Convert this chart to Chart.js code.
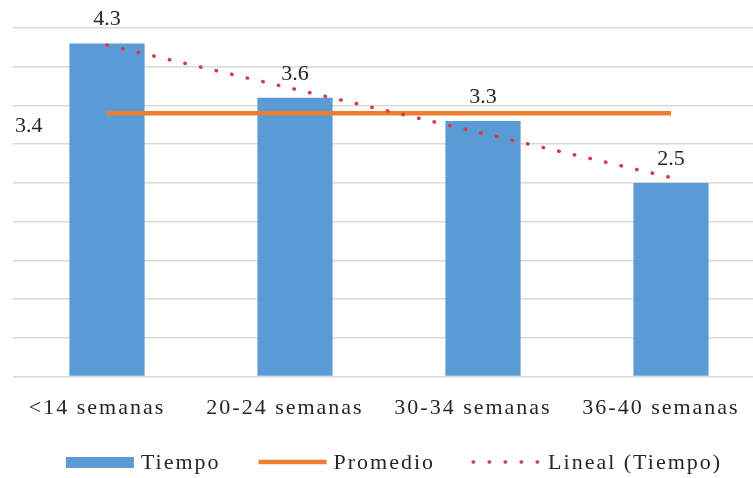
<!DOCTYPE html>
<html>
<head>
<meta charset="utf-8">
<script src="https://cdn.jsdelivr.net/npm/chart.js@4.4.1/dist/chart.umd.min.js"></script>
<style>
  html, body { margin: 0; padding: 0; background: #fff; overflow: hidden; }
  #wrap { width: 766px; height: 478px; }
</style>
</head>
<body>
<div id="wrap"><canvas id="c" width="766" height="478"></canvas></div>
<script>
// Tiempo por grupo de edad gestacional
const categories = ['<14 semanas', '20-24 semanas', '30-34 semanas', '36-40 semanas'];
const tiempo = [4.3, 3.6, 3.3, 2.5];
const promedio = [3.4, 3.4, 3.4, 3.4];
const tendencia = [4.28, 3.71, 3.14, 2.57];
const seriesNames = ['Tiempo', 'Promedio', 'Lineal (Tiempo)'];
const yMin = 0, yMax = 4.5, yStep = 0.5;

const FONT = "'Liberation Serif', 'Times New Roman', serif";
const TEXT = '#262626';
const BLUE = '#5B9BD5';
const ORANGE = '#ED7D31';
const RED = '#D63A47';
const DOTS = [0.5, 15.5];

// wider tracking for axis and legend text
const tracking = {
  id: 'tracking',
  beforeDraw(chart) { chart.ctx.letterSpacing = '2px'; }
};

// value labels above bars and the average label
const valueLabels = {
  id: 'valueLabels',
  afterDatasetsDraw(chart) {
    const ctx = chart.ctx;
    ctx.save();
    ctx.letterSpacing = '0px';
    ctx.font = '22px ' + FONT;
    ctx.fillStyle = TEXT;
    ctx.textAlign = 'center';
    ctx.textBaseline = 'middle';
    chart.getDatasetMeta(0).data.forEach((bar, i) => {
      ctx.fillText(tiempo[i].toFixed(1), bar.x, bar.y - 24);
    });
    const avg = chart.getDatasetMeta(1).data[0];
    ctx.textAlign = 'left';
    ctx.fillText(promedio[0].toFixed(1), chart.chartArea.left + 2, avg.y + 13);
    ctx.restore();
  }
};

// legend row under the axis
const legendRow = {
  id: 'legendRow',
  afterDraw(chart) {
    const ctx = chart.ctx;
    const ds = chart.data.datasets;
    ctx.save();
    ctx.font = '22px ' + FONT;
    ctx.letterSpacing = '2px';
    const sample = 68, gap = 7, itemGap = 38;
    const widths = ds.map(d => ctx.measureText(d.label).width);
    const total = ds.length * (sample + gap) + widths.reduce((a, b) => a + b, 0) + (ds.length - 1) * itemGap;
    let x = (chart.chartArea.left + chart.chartArea.right) / 2 - total / 2 + 5;
    const y = chart.height - 16;
    ds.forEach((d, i) => {
      if (d.type === 'bar') {
        ctx.fillStyle = d.backgroundColor;
        ctx.fillRect(x, y - 5, sample, 11);
      } else {
        ctx.beginPath();
        ctx.strokeStyle = d.borderColor;
        ctx.lineWidth = d.borderWidth;
        ctx.lineCap = d.borderCapStyle || 'butt';
        ctx.setLineDash(d.borderDash || []);
        ctx.moveTo(x, y);
        ctx.lineTo(x + sample, y);
        ctx.stroke();
        ctx.setLineDash([]);
      }
      x += sample + gap;
      ctx.fillStyle = TEXT;
      ctx.textAlign = 'left';
      ctx.textBaseline = 'middle';
      ctx.fillText(d.label, x, y + 1);
      x += widths[i] + itemGap;
    });
    ctx.restore();
  }
};

new Chart(document.getElementById('c'), {
  type: 'bar',
  data: {
    labels: categories,
    datasets: [
      {
        type: 'bar', label: seriesNames[0], data: tiempo,
        backgroundColor: BLUE, barPercentage: 0.4, categoryPercentage: 1, order: 3
      },
      {
        type: 'line', label: seriesNames[1], data: promedio,
        borderColor: ORANGE, borderWidth: 4.5, borderCapStyle: 'butt',
        pointRadius: 0, tension: 0, fill: false, order: 2
      },
      {
        type: 'line', label: seriesNames[2], data: tendencia,
        borderColor: RED, borderWidth: 3.5, borderDash: DOTS, borderCapStyle: 'round',
        pointRadius: 0, tension: 0, fill: false, order: 1
      }
    ]
  },
  options: {
    responsive: false,
    animation: false,
    devicePixelRatio: 1,
    layout: { padding: { left: 13, right: 1, top: 28, bottom: 39 } },
    plugins: { legend: { display: false }, tooltip: { enabled: false } },
    scales: {
      x: {
        grid: { display: false, drawTicks: false },
        border: { display: false },
        ticks: {
          font: { family: FONT, size: 22 }, color: TEXT,
          padding: 18, maxRotation: 0, minRotation: 0, autoSkip: false, labelOffset: -10
        }
      },
      y: {
        min: yMin, max: yMax,
        ticks: { display: false, stepSize: yStep },
        border: { display: false },
        grid: { color: '#d9d9d9', lineWidth: 1.5, drawTicks: false }
      }
    }
  },
  plugins: [tracking, valueLabels, legendRow]
});
</script>
</body>
</html>
